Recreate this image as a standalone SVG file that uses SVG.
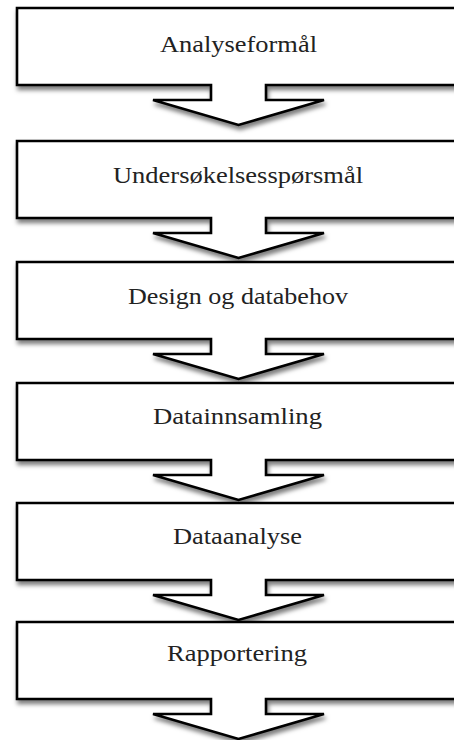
<svg xmlns="http://www.w3.org/2000/svg" width="454" height="740" viewBox="0 0 454 740">
  <style>
    .step { fill: #ffffff; stroke: #000000; stroke-width: 2.6; stroke-linejoin: miter; filter: url(#shadow); }
    .label { font-family: "Liberation Serif", "Times New Roman", serif; font-size: 23px; fill: #222222; text-anchor: middle; }
  </style>
  <defs>
    <filter id="shadow" x="-10%" y="-10%" width="120%" height="130%">
      <feDropShadow dx="1.5" dy="4" stdDeviation="2.2" flood-color="#000000" flood-opacity="0.5"/>
    </filter>
    <!-- box with a down-arrow tab; local origin at the box's top edge -->
    <path id="step-shape" d="M17,0 H459 V77 H266 V92 H324 L238.5,117 L153,92 H211 V77 H17 Z"/>
  </defs>

  <g id="step-analyseformal" transform="translate(0,8)">
    <use href="#step-shape" class="step"/>
    <text class="label" x="238.5" y="44" textLength="157" lengthAdjust="spacingAndGlyphs">Analyseformål</text>
  </g>

  <g id="step-undersokelsessporsmal" transform="translate(0,141)">
    <use href="#step-shape" class="step"/>
    <text class="label" x="238" y="42" textLength="250" lengthAdjust="spacingAndGlyphs">Undersøkelsesspørsmål</text>
  </g>

  <g id="step-design" transform="translate(0,262)">
    <use href="#step-shape" class="step"/>
    <text class="label" x="238" y="42" textLength="220" lengthAdjust="spacingAndGlyphs">Design og databehov</text>
  </g>

  <g id="step-datainnsamling" transform="translate(0,383)">
    <use href="#step-shape" class="step"/>
    <text class="label" x="237.5" y="41" textLength="169" lengthAdjust="spacingAndGlyphs">Datainnsamling</text>
  </g>

  <g id="step-dataanalyse" transform="translate(0,503)">
    <use href="#step-shape" class="step"/>
    <text class="label" x="237.5" y="41" textLength="129" lengthAdjust="spacingAndGlyphs">Dataanalyse</text>
  </g>

  <g id="step-rapportering" transform="translate(0,622)">
    <use href="#step-shape" class="step"/>
    <text class="label" x="237" y="39" textLength="140" lengthAdjust="spacingAndGlyphs">Rapportering</text>
  </g>
</svg>
